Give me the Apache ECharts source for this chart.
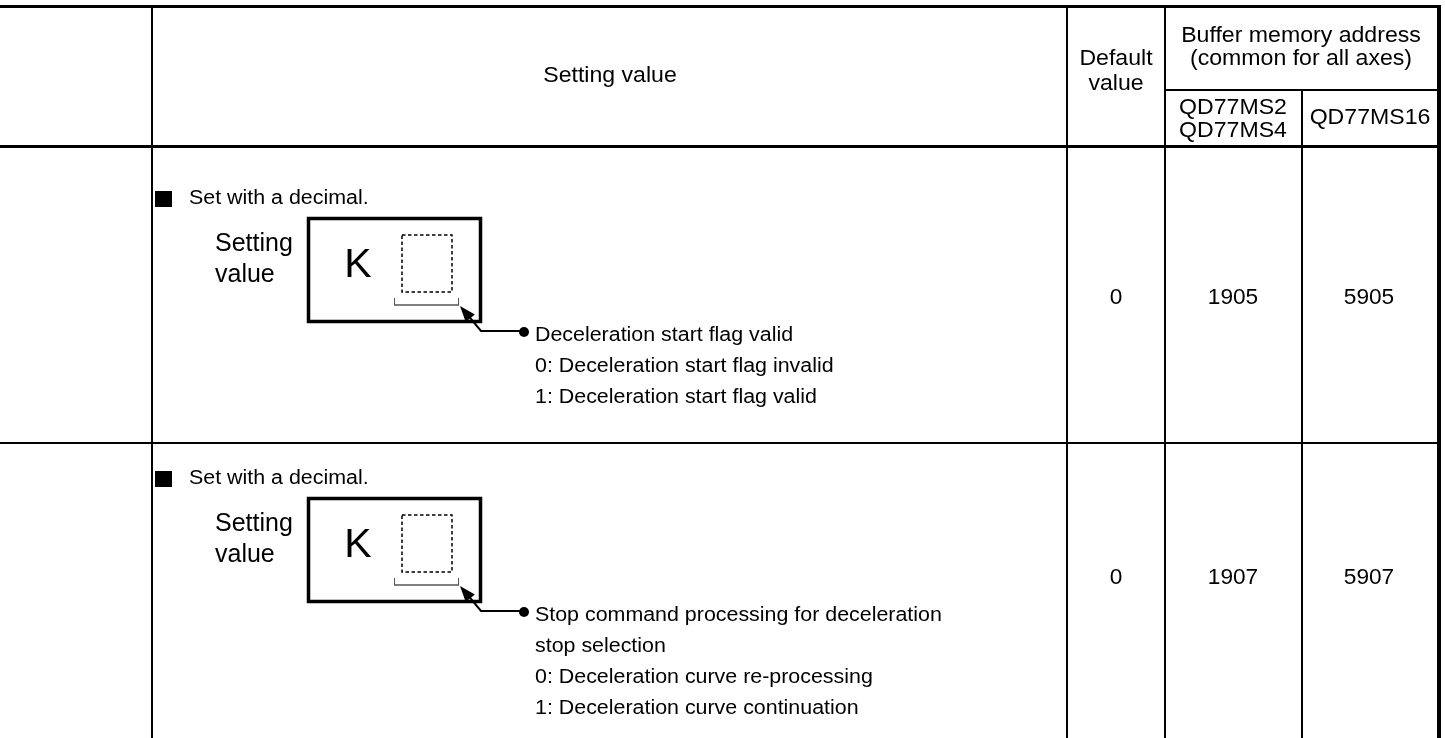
<!DOCTYPE html>
<html>
<head>
<meta charset="utf-8">
<script src="https://cdn.jsdelivr.net/npm/echarts@6/dist/echarts.min.js"></script>
<style>
html,body{margin:0;padding:0;background:#fff;}
#chart{width:1445px;height:738px;}
</style>
</head>
<body>
<div id="chart"></div>
<script>
// ---- Table content ----
const headerSetting = 'Setting value';
const headerDefault = ['Default', 'value'];
const headerBuffer = ['Buffer memory address', '(common for all axes)'];
const headerModels = [['QD77MS2', 'QD77MS4'], ['QD77MS16']];

const rowIntro = ['Set with a decimal.', 'Set with a decimal.'];
const rowLabel = ['Setting', 'value'];
const rowPrefix = 'K';
const rowDescriptions = [
  ['Deceleration start flag valid', '0: Deceleration start flag invalid', '1: Deceleration start flag valid'],
  ['Stop command processing for deceleration', 'stop selection', '0: Deceleration curve re-processing', '1: Deceleration curve continuation']
];
const defaultValues = ['0', '0'];
const addrMS2MS4 = ['1905', '1907'];
const addrMS16 = ['5905', '5907'];

// ---- Layout ----
const FONT = '"Liberation Sans", Arial, sans-serif';
const colX = [152, 1067, 1165, 1302, 1439];
const topY = 6.5, subY = 90, headY = 146.5;
const rowOffset = 280;
const H = 738;

const g = [];
function line(x1, y1, x2, y2, w, color) {
  g.push({type: 'line', shape: {x1, y1, x2, y2}, style: {stroke: color || '#000', lineWidth: w}, silent: true});
}
function text(t, x, y, size, align, sx) {
  g.push({type: 'text', x, y, scaleX: sx || 1,
    style: {text: t, fill: '#000', font: size + 'px ' + FONT, align: align || 'center', verticalAlign: 'middle'}, silent: true});
}

// borders & grid
line(0, topY, 1441, topY, 3);
line(0, headY, 1441, headY, 3);
line(0, 443, 1439, 443, 2);
line(colX[2], subY, colX[4], subY, 2);
line(colX[0], topY, colX[0], H, 2);
line(colX[1], topY, colX[1], H, 2);
line(colX[2], topY, colX[2], H, 2);
line(colX[3], subY, colX[3], H, 2);
line(colX[4], topY - 1.5, colX[4], H, 4);

// header texts
text(headerSetting, 610, 76, 22, 'center', 1.05);
text(headerDefault[0], 1116, 59, 22, 'center', 1.05);
text(headerDefault[1], 1116, 84, 22, 'center', 1.05);
text(headerBuffer[0], 1301, 36, 22, 'center', 1.05);
text(headerBuffer[1], 1301, 59, 22, 'center', 1.05);
text(headerModels[0][0], 1233, 108, 22, 'center', 1.05);
text(headerModels[0][1], 1233, 131, 22, 'center', 1.05);
text(headerModels[1][0], 1370, 118, 22, 'center', 1.05);

// rows
for (let r = 0; r < 2; r++) {
  const o = r * rowOffset;
  // intro with black square
  g.push({type: 'rect', shape: {x: 155, y: 191 + o, width: 17, height: 16}, style: {fill: '#000'}, silent: true});
  text(rowIntro[r], 189, 198 + o, 20, 'left', 1.07);
  // label
  text(rowLabel[0], 215, 244 + o, 25, 'left');
  text(rowLabel[1], 215, 275 + o, 25, 'left');
  // outer box
  g.push({type: 'rect', shape: {x: 308.5, y: 218.5 + o, width: 172, height: 103}, style: {fill: 'none', stroke: '#000', lineWidth: 3.5}, silent: true});
  text(rowPrefix, 358, 266 + o, 41, 'center');
  // dashed digit box
  g.push({type: 'rect', shape: {x: 402, y: 235 + o, width: 50, height: 57}, style: {fill: 'none', stroke: '#000', lineWidth: 1.5, lineDash: [3.5, 2.5]}, silent: true});
  // bracket
  line(394, 305 + o, 459, 305 + o, 1.5, '#555');
  line(394.5, 298 + o, 394.5, 305 + o, 1, '#555');
  line(458.5, 298 + o, 458.5, 305 + o, 1, '#555');
  // leader: dot -> horizontal -> diagonal -> arrowhead
  const tip = [460, 306 + o], bend = [481, 331 + o], end = [520, 331 + o];
  g.push({type: 'polyline', shape: {points: [end, bend, [tip[0] + 6, tip[1] + 7]]}, style: {stroke: '#000', lineWidth: 2, fill: null}, silent: true});
  const dx = bend[0] - tip[0], dy = bend[1] - tip[1], L = Math.hypot(dx, dy);
  const ux = dx / L, uy = dy / L, px = -uy, py = ux, al = 16, aw = 6;
  const bx = tip[0] + ux * al, by = tip[1] + uy * al;
  g.push({type: 'polygon', shape: {points: [tip, [bx + px * aw, by + py * aw], [bx - px * aw, by - py * aw]]}, style: {fill: '#000'}, silent: true});
  g.push({type: 'circle', shape: {cx: 524, cy: 332 + o, r: 5}, style: {fill: '#000'}, silent: true});
  // description lines
  rowDescriptions[r].forEach((t, i) => {
    text(t, 535, 335 + o + i * 31, 20, 'left', 1.07);
  });
  // values
  text(defaultValues[r], 1116, 298 + o, 22, 'center', 1.03);
  text(addrMS2MS4[r], 1233, 298 + o, 22, 'center', 1.03);
  text(addrMS16[r], 1369, 298 + o, 22, 'center', 1.03);
}

const chart = echarts.init(document.getElementById('chart'), null, {renderer: 'canvas'});
chart.setOption({backgroundColor: '#fff', animation: false, graphic: {elements: g}});
</script>
</body>
</html>
